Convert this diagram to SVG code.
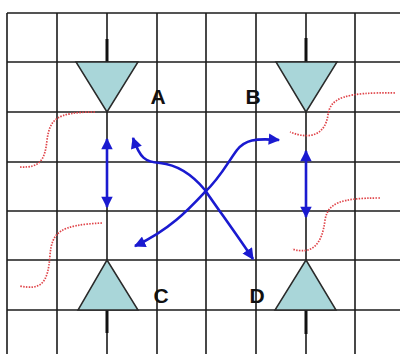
<svg xmlns="http://www.w3.org/2000/svg" width="400" height="354" viewBox="0 0 400 354">
<defs>
<style>
.grid{stroke:#1c1c1c;stroke-width:1.6;fill:none}
.tri{fill:#a9d6d9;stroke:#2a2a2a;stroke-width:1.5;stroke-linejoin:miter}
.stem{stroke:#111;stroke-width:3;fill:none}
.lbl{font-family:"Liberation Sans",Arial,sans-serif;font-weight:bold;font-size:21px;fill:#111;text-anchor:middle}
.blue{stroke:#1a1ad0;stroke-width:2.6;fill:none}
.red{stroke:#e0454a;stroke-width:1.7;fill:none;stroke-dasharray:1.5 1.3}
</style>
<marker id="ah" viewBox="0 0 10 10" refX="9" refY="5" markerWidth="4.6" markerHeight="4.4" orient="auto-start-reverse" markerUnits="strokeWidth">
<path d="M0,0 L10,5 L0,10 Z" fill="#1a1ad0"/>
</marker>
</defs>
<rect width="400" height="354" fill="#fff"/>
<g id="grid" class="grid">
<path d="M7,13 H400 M7,62 H400 M7,112 H400 M7,162 H400 M7,211 H400 M7,260 H400 M7,310 H400"/>
<path d="M7,13 V354 M57,13 V354 M107,13 V354 M157,13 V354 M206,13 V354 M256,13 V354 M306,13 V354 M355,13 V354"/>
</g>
<g id="red-curves" class="red">
<path d="M95,112 C55,112 50,120 47,140 C45,160 40,168 20,167"/>
<path d="M102,223 C60,225 52,232 50,255 C48,285 40,290 20,286"/>
<path d="M395,93 C345,92 330,98 328,115 C325,135 310,140 290,132"/>
<path d="M380,198 C340,198 328,203 325,220 C322,245 312,255 292,249"/>
</g>
<g id="node-A">
<line class="stem" x1="107" y1="39" x2="107" y2="62"/>
<path class="tri" d="M76,62 H138 L107,112 Z"/>
<text class="lbl" x="158" y="104">A</text>
</g>
<g id="node-B">
<line class="stem" x1="306" y1="38" x2="306" y2="62"/>
<path class="tri" d="M276,62 H337 L306,112 Z"/>
<text class="lbl" x="253" y="104">B</text>
</g>
<g id="node-C">
<line class="stem" x1="107" y1="310" x2="107" y2="333"/>
<path class="tri" d="M107,260 L138,310 H78 Z"/>
<text class="lbl" x="161" y="303">C</text>
</g>
<g id="node-D">
<line class="stem" x1="306" y1="310" x2="306" y2="334"/>
<path class="tri" d="M306,260 L336,310 H275 Z"/>
<text class="lbl" x="257" y="303">D</text>
</g>
<g id="connectors" class="blue">
<path d="M107,139 V207" marker-start="url(#ah)" marker-end="url(#ah)"/>
<path d="M306,151 V217" marker-start="url(#ah)" marker-end="url(#ah)"/>
<path d="M133,138 C140,158 145,162 160,163 C180,165 195,178 205,190 C215,205 235,232 253,259" marker-start="url(#ah)" marker-end="url(#ah)"/>
<path d="M279,140 C255,138 245,140 237,150 C228,162 220,178 205,192 C190,208 170,230 135,246" marker-start="url(#ah)" marker-end="url(#ah)"/>
</g>
</svg>
